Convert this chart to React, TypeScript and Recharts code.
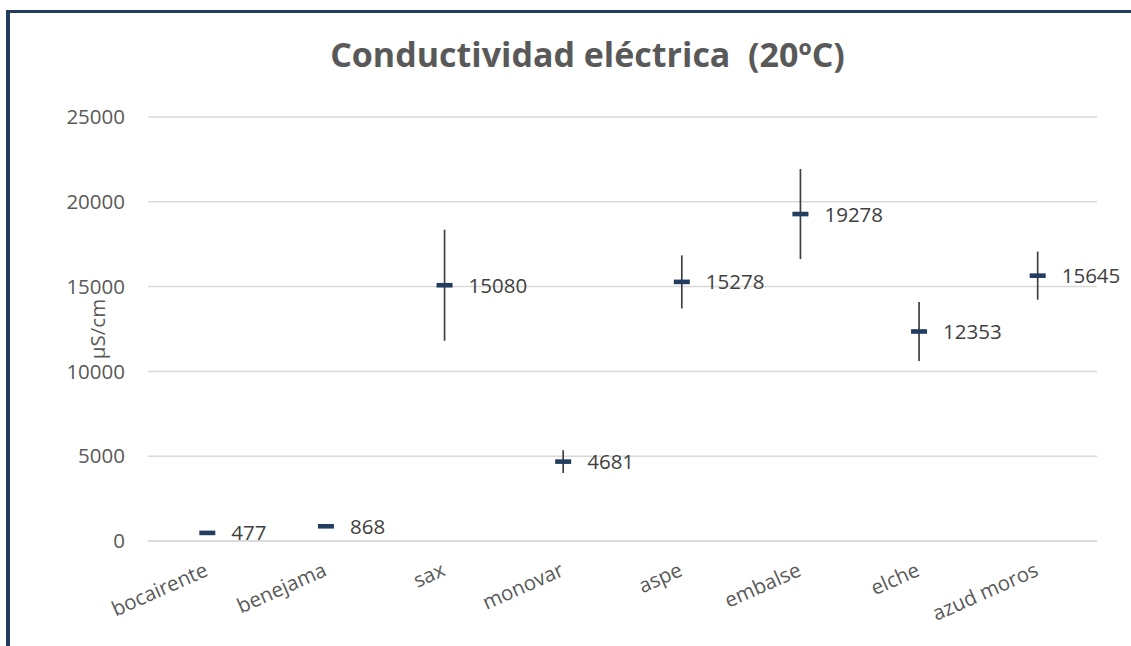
import { ComposedChart, Line, XAxis, YAxis, CartesianGrid, ErrorBar, LabelList } from 'recharts';

const categories = ['bocairente', 'benejama', 'sax', 'monovar', 'aspe', 'embalse', 'elche', 'azud moros'];
const conductividad = [477, 868, 15080, 4681, 15278, 19278, 12353, 15645];
const desviacion = [60, 90, 3275, 670, 1565, 2657, 1733, 1418];
const yTicks = [0, 5000, 10000, 15000, 20000, 25000];

const data = categories.map((name, i) => ({
  name,
  value: conductividad[i],
  err: desviacion[i],
}));

const textColor = '#595959';
const navy = '#223D60';
const font = '"Open Sans", sans-serif';

const DashDot = (props: any) => {
  const { cx, cy } = props;
  if (cx == null || cy == null) return null;
  return <rect x={cx - 8} y={cy - 2.3} width={16} height={4.6} fill={navy} />;
};

const XTick = (props: any) => {
  const { x, y, payload } = props;
  return (
    <text
      transform={`translate(${x + 2},${y + 34}) rotate(-24)`}
      textAnchor="end"
      fill={textColor}
      fontSize={20.5}
      fontFamily={font}
    >
      {payload.value}
    </text>
  );
};

const ValueLabel = (props: any) => {
  const { x, y, value } = props;
  return (
    <text x={x + 24} y={y + 7.5} fill="#404040" fontSize={20.5} fontFamily={font}>
      {value}
    </text>
  );
};

const YLabel = (props: any) => {
  const vb = props.viewBox;
  const x = vb.x + 17;
  const y = vb.y + vb.height / 2;
  return (
    <text
      x={x}
      y={y}
      transform={`rotate(-90, ${x}, ${y})`}
      textAnchor="middle"
      fill={textColor}
      fontSize={20.5}
      fontFamily={font}
    >
      µS/cm
    </text>
  );
};

export default function App() {
  return (
    <div
      style={{
        position: 'absolute',
        left: 0,
        top: 0,
        width: 1131,
        height: 646,
        overflow: 'hidden',
        background: '#fff',
      }}
    >
      <div
        style={{
          position: 'absolute',
          left: 6,
          top: 10,
          width: 1200,
          height: 700,
          borderLeft: `4px solid ${navy}`,
          borderTop: `3px solid ${navy}`,
        }}
      />
      <div
        style={{
          position: 'absolute',
          left: 22,
          top: 37,
          width: 1131,
          textAlign: 'center',
          fontFamily: font,
          fontWeight: 700,
          fontSize: 34,
          lineHeight: '34px',
          color: textColor,
          whiteSpace: 'pre',
        }}
      >
        Conductividad eléctrica  (20ºC)
      </div>
      <div style={{ position: 'absolute', left: 0, top: 0 }}>
        <ComposedChart
          width={1131}
          height={646}
          data={data}
          margin={{ top: 117, right: 34, left: 88, bottom: 45 }}
        >
          <CartesianGrid vertical={false} stroke="#D9D9D9" strokeWidth={1.5} />
          <XAxis
            dataKey="name"
            type="category"
            scale="band"
            axisLine={{ stroke: '#D9D9D9', strokeWidth: 1.5 }}
            tickLine={false}
            tickSize={0}
            tickMargin={0}
            height={60}
            interval={0}
            tick={<XTick />}
          />
          <YAxis
            domain={[0, 25000]}
            ticks={yTicks}
            width={60}
            axisLine={false}
            tickLine={false}
            tickSize={0}
            tickMargin={23}
            tick={{ fill: textColor, fontSize: 20.5, fontFamily: font }}
            label={{ content: <YLabel /> }}
          />
          <Line
            dataKey="value"
            stroke="none"
            isAnimationActive={false}
            dot={<DashDot />}
            activeDot={false}
          >
            <ErrorBar dataKey="err" direction="y" width={0} stroke="#404040" strokeWidth={1.7} />
            <LabelList dataKey="value" content={<ValueLabel />} />
          </Line>
        </ComposedChart>
      </div>
    </div>
  );
}
